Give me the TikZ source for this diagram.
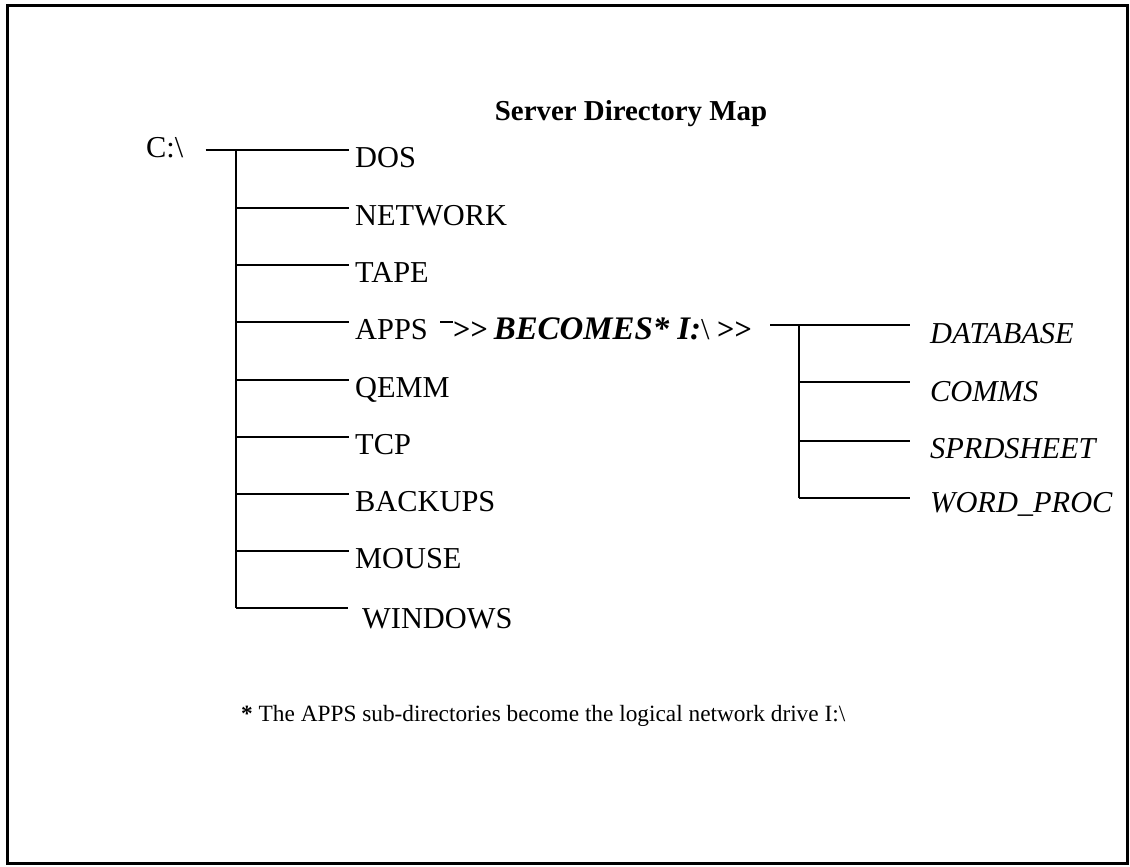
\documentclass[tikz,border=0pt]{standalone}
\usepackage{fontspec}
\setmainfont{Liberation Serif}
\begin{document}
\begin{tikzpicture}[x=1bp,y=-1bp,
  lbl/.style={font=\fontsize{30.5}{36}\selectfont, inner ysep=0pt, inner xsep=6bp, anchor=base west},
  ital/.style={font=\fontsize{30.5}{36}\selectfont\itshape, inner ysep=0pt, inner xsep=20bp, anchor=base west},
  conn/.style={line width=1.3bp}]
\useasboundingbox (0,0) rectangle (1130,867);
\draw[line width=3bp] (7,5) rectangle (1127,863);
\node[font=\fontsize{29}{34}\selectfont\bfseries, anchor=base] (title) at (631,120) {Server Directory Map};
% root
\node[font=\fontsize{30.5}{36}\selectfont, inner ysep=0pt, inner xsep=22bp, anchor=base west] (c) at (124,157) {C:\textbackslash};
\coordinate (b1) at (236,150);
\coordinate (b2) at (236,208);
\coordinate (b3) at (236,265);
\coordinate (b4) at (236,322);
\coordinate (b5) at (236,380);
\coordinate (b6) at (236,437);
\coordinate (b7) at (236,494);
\coordinate (b8) at (236,551);
\coordinate (b9) at (236,608);
\node[lbl] (dos) at (349,167) {DOS};
\node[lbl] (network) at (349,225) {NETWORK};
\node[lbl] (tape) at (349,282) {TAPE};
\node[lbl] (apps) at (349,339) {APPS};
\node[lbl] (qemm) at (349,397) {QEMM};
\node[lbl] (tcp) at (349,454) {TCP};
\node[lbl] (backups) at (349,511) {BACKUPS};
\node[lbl] (mouse) at (349,568) {MOUSE};
\node[lbl, inner xsep=14bp] (windows) at (348,628) {WINDOWS};
\draw[conn] (c.east |- b1) -- (dos.west |- b1);
\draw[conn] (b1) -- (b9);
\draw[conn] (b2) -- (network.west |- b2);
\draw[conn] (b3) -- (tape.west |- b3);
\draw[conn] (b4) -- (apps.west |- b4);
\draw[conn] (b5) -- (qemm.west |- b5);
\draw[conn] (b6) -- (tcp.west |- b6);
\draw[conn] (b7) -- (backups.west |- b7);
\draw[conn] (b8) -- (mouse.west |- b8);
\draw[conn] (b9) -- (windows.west |- b9);
% becomes
\node[font=\fontsize{30.5}{36}\selectfont, inner sep=0pt, anchor=base west] (becomes) at (453,339)
  {\textbf{{>}{>}}\hspace{6bp}{\fontsize{33}{36}\selectfont\textbf{\textit{BECOMES* I:}}}\textbackslash{} \textbf{{>}{>}}};
\draw[conn] ([xshift=6bp]apps.east |- b4) -- (becomes.west |- b4);
% right subtree
\coordinate (r1) at (799,325);
\coordinate (r2) at (799,382);
\coordinate (r3) at (799,441);
\coordinate (r4) at (799,498);
\node[ital] (database) at (910,343) {DATABASE};
\node[ital] (comms) at (910,401) {COMMS};
\node[ital] (sprd) at (910,458) {SPRDSHEET};
\node[ital] (word) at (910,512) {WORD\_PROC};
\draw[conn] ([xshift=18bp]becomes.east |- r1) -- (database.west |- r1);
\draw[conn] (r1) -- (r4);
\draw[conn] (r2) -- (comms.west |- r2);
\draw[conn] (r3) -- (sprd.west |- r3);
\draw[conn] (r4) -- (word.west |- r4);
% footnote
\node[font=\fontsize{23.4}{28}\selectfont, inner sep=0pt, anchor=base west] (note) at (241,721)
  {\textbf{*} The APPS sub-directories become the logical network drive I:\textbackslash};
\end{tikzpicture}
\end{document}
